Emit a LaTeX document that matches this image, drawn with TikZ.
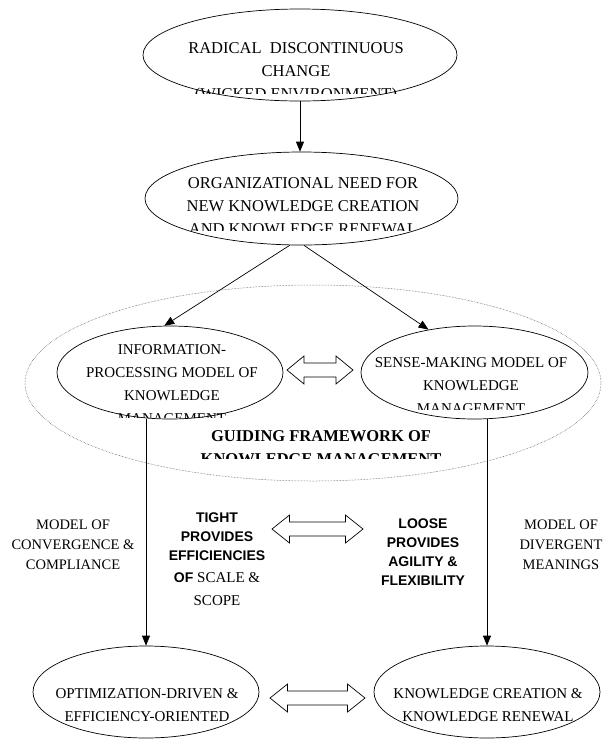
\documentclass[tikz,border=0pt]{standalone}
\usepackage{fontspec}
\setmainfont{Liberation Serif}
\setsansfont{Liberation Sans}
\usetikzlibrary{shapes.geometric,arrows.meta}
\begin{document}
\begin{tikzpicture}[x=1pt,y=-1pt,
  oval/.style={draw, ellipse, inner sep=0pt, line width=0.7pt},
  frame/.style={draw=black!75, ellipse, inner sep=0pt, line width=0.5pt, densely dotted},
  lbl/.style={align=center, inner sep=0pt},
  big/.style={font=\fontsize{16.5}{23}\selectfont},
  mid/.style={font=\fontsize{15}{23}\selectfont},
  side/.style={font=\fontsize{14.5}{20}\selectfont},
  bsans/.style={font=\fontsize{14}{19}\selectfont\sffamily\bfseries},
  arr/.style={-{Triangle[length=10pt,width=8pt]}, line width=0.7pt},
  hollow/.style={draw, fill=white, line width=0.7pt, line join=miter}]
\useasboundingbox (0,0) rectangle (608,740);

% ellipses
\node[oval, minimum width=314pt, minimum height=92pt] (e1) at (300,55) {};
\node[oval, minimum width=313pt, minimum height=93pt] (e2) at (301.5,198.5) {};
\node[frame, minimum width=576pt, minimum height=196pt] (fw) at (313,383) {};
\node[oval, minimum width=226pt, minimum height=93pt] (iL) at (170,372.5) {};
\node[oval, minimum width=227pt, minimum height=93pt] (iR) at (474.5,372.5) {};
\node[oval, minimum width=226pt, minimum height=92pt] (bL) at (146,692) {};
\node[oval, minimum width=226pt, minimum height=92pt] (bR) at (487,692) {};

% clipped texts
\begin{scope}
  \clip (0,0) rectangle (608,93);
  \node[lbl,big] (t1) at (296,72.5) {RADICAL\ \ DISCONTINUOUS\\CHANGE\\(WICKED ENVIRONMENT)};
\end{scope}
\begin{scope}
  \clip (0,100) rectangle (608,230);
  \node[lbl,big] (t2) at (303,206.5) {ORGANIZATIONAL NEED FOR\\NEW KNOWLEDGE CREATION\\AND KNOWLEDGE RENEWAL};
\end{scope}
\begin{scope}
  \clip (0,300) rectangle (300,417);
  \node[lbl,mid] (t3) at (172,384) {INFORMATION-\\PROCESSING MODEL OF\\KNOWLEDGE\\MANAGEMENT};
\end{scope}
\begin{scope}
  \clip (340,300) rectangle (608,409);
  \node[lbl,mid] (t4) at (471,385.5) {SENSE-MAKING MODEL OF\\KNOWLEDGE\\MANAGEMENT};
\end{scope}
\begin{scope}
  \clip (0,420) rectangle (608,458);
  \node[lbl,big,font=\fontsize{16.5}{23}\selectfont\bfseries] (t5) at (321,448) {GUIDING FRAMEWORK OF\\KNOWLEDGE MANAGEMENT};
\end{scope}

% free labels
\node[lbl,side] (lc) at (73,545) {MODEL OF\\CONVERGENCE \&\\COMPLIANCE};
\node[lbl,side] (ld) at (561,545) {MODEL OF\\DIVERGENT\\MEANINGS};
\node[lbl,bsans] (tight) at (217,559) {TIGHT\\PROVIDES\\EFFICIENCIES\\[3pt]OF {\rmfamily\mdseries\fontsize{15}{19}\selectfont SCALE \&}\\[4pt]{\rmfamily\mdseries\fontsize{15}{19}\selectfont SCOPE}};
\node[lbl,bsans] (loose) at (423,552.5) {LOOSE\\PROVIDES\\AGILITY \&\\FLEXIBILITY};
\node[lbl,mid] (t6) at (147,705.5) {OPTIMIZATION-DRIVEN \&\\EFFICIENCY-ORIENTED};
\node[lbl,mid] (t7) at (488,705.5) {KNOWLEDGE CREATION \&\\KNOWLEDGE RENEWAL};

% connectors
\draw[arr] (e1.south) -- (e1.south |- e2.north);
\draw[arr] (e2.-104) -- (iL.97);
\draw[arr] (e2.-87) -- (iR.137);
\draw[arr] (iL.south -| bL.north) -- (bL.north);
\draw[arr] (iR.south -| bR.north) -- (bR.north);

% double block arrows
\coordinate (d1) at (320,370);
\coordinate (d2) at (317.5,529);
\coordinate (d3) at (317.5,698);
\draw[hollow, shift={(d1)}] (-33,0) -- (-16,-14) -- (-16,-7) -- (16,-7) -- (16,-14) -- (33,0) -- (16,14) -- (16,7) -- (-16,7) -- (-16,14) -- cycle;
\draw[hollow, shift={(d2)}] (-45.5,0) -- (-28,-14) -- (-28,-7) -- (28,-7) -- (28,-14) -- (45.5,0) -- (28,14) -- (28,7) -- (-28,7) -- (-28,14) -- cycle;
\draw[hollow, shift={(d3)}] (-47.5,0) -- (-30,-14) -- (-30,-7) -- (30,-7) -- (30,-14) -- (47.5,0) -- (30,14) -- (30,7) -- (-30,7) -- (-30,14) -- cycle;
\end{tikzpicture}
\end{document}
